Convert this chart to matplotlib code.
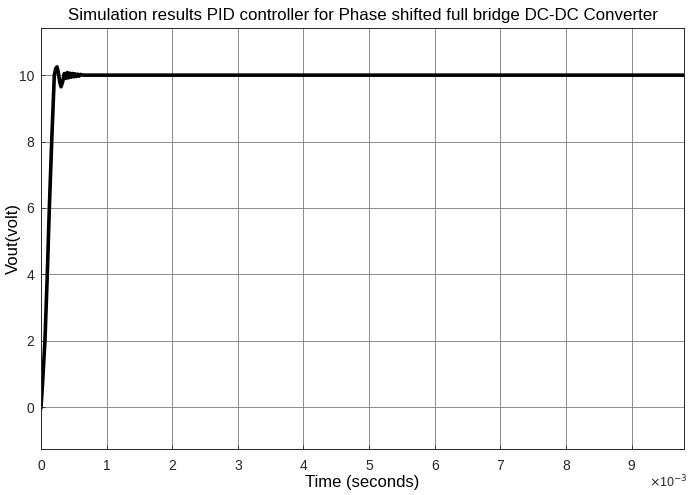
import matplotlib
matplotlib.use("Agg")
import matplotlib.pyplot as plt

plt.rcParams['font.family'] = ['Liberation Sans', 'DejaVu Sans']

# time in milliseconds (axis shows x10^-3 seconds)
t_ms = [0, 0.02, 0.06, 0.096, 0.127, 0.163, 0.203, 0.225, 0.244, 0.262, 0.285,
        0.305, 0.33, 0.355, 0.38, 0.40, 0.42, 0.44, 0.46, 0.48, 0.50, 0.52,
        0.54, 0.56, 0.58, 0.60, 0.65, 9.8]
vout = [0, 0.6, 2.0, 4.0, 6.0, 8.0, 10.0, 10.2, 10.25, 10.1, 9.8,
        9.65, 9.8, 10.05, 9.9, 10.08, 9.92, 10.06, 9.94, 10.05, 9.95, 10.04,
        9.96, 10.03, 9.97, 10.02, 10.0, 10.0]
xticks = [0, 1, 2, 3, 4, 5, 6, 7, 8, 9]
yticks = [0, 2, 4, 6, 8, 10]

fig = plt.figure(figsize=(7, 4.95), dpi=100)
ax = fig.add_axes([41/700, 46/495, 643/700, 421/495])
ax.plot(t_ms, vout, color='black', lw=2.6, solid_joinstyle='round')
ax.set_xlim(0, 9.8)
ax.set_ylim(-1.26, 11.42)
ax.set_xticks(xticks)
ax.set_yticks(yticks)
ax.grid(True, color='#7a7a7a', lw=0.6)
ax.tick_params(direction='in', length=3, labelsize=10, colors='#262626', width=0.6)
ax.tick_params(axis='x', pad=7)
ax.tick_params(axis='y', pad=5)
for s in ax.spines.values():
    s.set_color('#262626')
    s.set_linewidth(0.7)
ax.set_title('Simulation results PID controller for Phase shifted full bridge DC-DC Converter',
             fontsize=12.2, color='black', pad=6)
ax.set_xlabel('Time (seconds)', fontsize=12, labelpad=2)
fig.text(13/700, 1 - 238/495, 'Vout(volt)', fontsize=12, rotation=90,
         ha='center', va='center')
fig.text(668/700, 1 - 482/495, r'$\times$10$^{-3}$', fontsize=9, color='#262626',
         ha='center', va='center')
fig.savefig('out.png', dpi=100)
